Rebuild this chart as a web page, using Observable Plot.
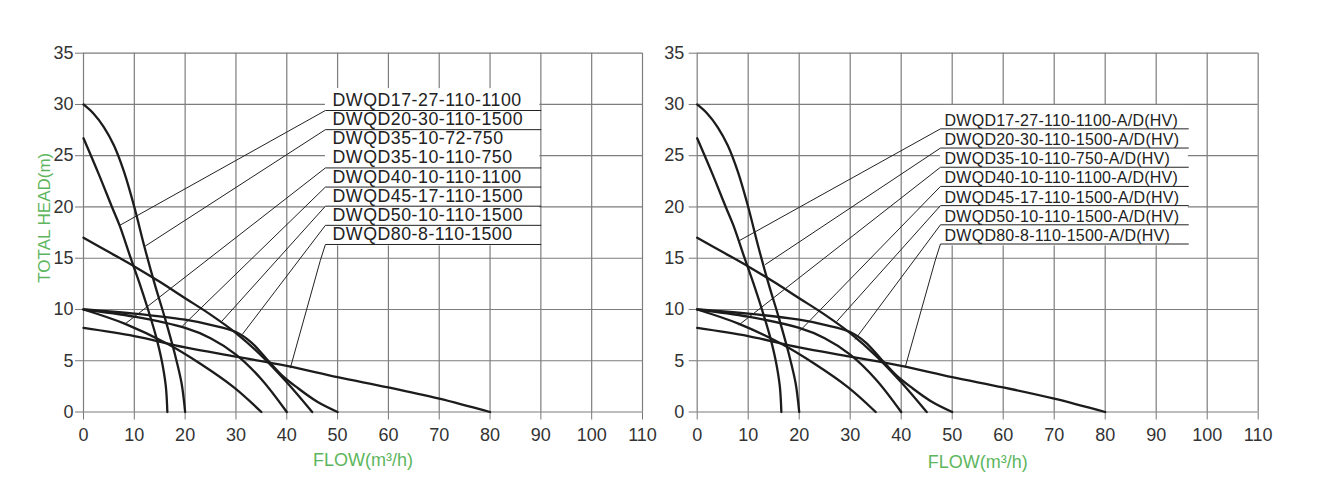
<!DOCTYPE html>
<html><head><meta charset="utf-8">
<script src="https://cdn.jsdelivr.net/npm/d3@7"></script>
<script src="https://cdn.jsdelivr.net/npm/@observablehq/plot@0.6"></script>
<style>
html,body{margin:0;padding:0;background:#fff;}
#root{position:relative;width:1326px;height:494px;overflow:hidden;}
#root svg{position:absolute;top:0;font-family:"Liberation Sans",Arial,sans-serif;}
</style></head><body><div id="root"></div>
<script>
// ---------- data ----------
const xTicks = [0,10,20,30,40,50,60,70,80,90,100,110];
const yTicks = [0,5,10,15,20,25,30,35];

// pump curves [flow m3/h, head m]
const curve17_27 = [[0,26.7],[3,23.2],[5.6,20],[7.1,18.2],[9.3,15],[11,12.6],[12.7,10],[14.2,7.5],[15.4,5],[16.2,2.5],[16.5,0]];
const curve20_30 = [[0,30],[2,29.1],[4,27.8],[6,26.0],[8,23.4],[10,20],[12,16.1],[14,12.5],[16,9.2],[18,5.6],[19.3,2.8],[20,0]];
const curve35_10 = [[0,10],[8.2,8.6],[16.5,6.65],[23,4.7],[29.6,2.4],[35,0]];
const curve40_10 = [[0,10],[10,9.3],[20,8.2],[25,7.2],[30,5.6],[35,3.2],[40,0]];
const curve45_17 = [[0,17],[5,15.6],[10,14.2],[15,12.7],[20,11.1],[25,9.5],[30,7.7],[35,5.5],[40,2.9],[45,0]];
const curve50_10 = [[0,10],[10,9.6],[20,9.0],[25,8.5],[30,7.8],[33,6.8],[36,5.2],[39,3.6],[42,2.4],[46,1.0],[50,0]];
const curve80_8  = [[0,8.2],[10,7.4],[20,6.3],[30,5.4],[40,4.5],[50,3.4],[60,2.4],[70,1.3],[80,0]];
const curveNames = ["17-27","20-30","35-10","40-10","45-17","50-10","80-8"];
const curveData  = [curve17_27,curve20_30,curve35_10,curve40_10,curve45_17,curve50_10,curve80_8];

const leftLabels = ["DWQD17-27-110-1100","DWQD20-30-110-1500","DWQD35-10-72-750","DWQD35-10-110-750","DWQD40-10-110-1100","DWQD45-17-110-1500","DWQD50-10-110-1500","DWQD80-8-110-1500"];
const rightLabels = ["DWQD17-27-110-1100-A/D(HV)","DWQD20-30-110-1500-A/D(HV)","DWQD35-10-110-750-A/D(HV)","DWQD40-10-110-1100-A/D(HV)","DWQD45-17-110-1500-A/D(HV)","DWQD50-10-110-1500-A/D(HV)","DWQD80-8-110-1500-A/D(HV)"];
// leader start points on curves [flow, head, label index]
const leftLeaders  = [[7.1,18.2,0],[12.2,16.2,1],[8.2,8.6,3],[19.5,8.4,4],[27.3,8.9,5],[31.3,7.6,6],[40.7,4.3,7]];
const rightLeaders = [[8.2,16.7,0],[13.4,14.4,1],[8.2,8.5,2],[20.1,7.9,3],[27.4,8.85,4],[31,7.1,5],[40.8,4.4,6]];
const yTitle = "TOTAL HEAD(m)";
const xTitle = "FLOW(m³/h)";

// ---------- build ----------
const rows = curveData.flatMap((c, k) => c.map(([x, y]) => ({series: curveNames[k], x, y})));
const GREEN = "#5db65d";

function panel(cfg) {
  const {labels, leaders, left, width, marginLeft, marginRight, lab, yTickPad, showYTitle} = cfg;
  const underY = labels.map((_, i) => lab.firstUnder - i * lab.step);
  const drawn = labels.map((_, i) => !(lab.skip || []).includes(i));
  const leaderRows = leaders.flatMap(([x, y, li], k) => {
    const pts = [[x, y]];
    if (k === leaders.length - 1) pts.push([lab.boxLeft - 1, underY[li] - 1.56]);
    pts.push([lab.boxLeft, underY[li]], [lab.lineRight, underY[li]]);
    return pts.map(([px, py]) => ({k, x: px, y: py}));
  });
  const marks = [
    Plot.gridX(xTicks, {stroke: "#7d7d7d", strokeOpacity: 1, strokeWidth: 1.2}),
    Plot.gridY(yTicks, {stroke: "#7d7d7d", strokeOpacity: 1, strokeWidth: 1.2}),
    Plot.rect([0], {x1: lab.boxLeft, x2: lab.boxRight, y1: lab.boxBottom, y2: lab.boxTop, fill: "white"}),
    Plot.axisX(xTicks, {tickSize: 8, tickPadding: 8, fontSize: 18, stroke: "#777", fill: "#333", label: null}),
    Plot.axisY(yTicks, {tickSize: 8, tickPadding: yTickPad, fontSize: 18, stroke: "#777", fill: "#333", label: null}),
    Plot.line(leaderRows, {x: "x", y: "y", z: "k", stroke: "#222", strokeWidth: 1}),
    Plot.ruleY(labels.filter((_, i) => drawn[i] && !leaders.some(l => l[2] === i)), {y: (d) => underY[labels.indexOf(d)], x1: lab.boxLeft, x2: lab.lineRight, stroke: "#222", strokeWidth: 1}),
    Plot.line(rows, {x: "x", y: "y", z: "series", stroke: "#1c1c1c", strokeWidth: 2.3, curve: "catmull-rom"}),
    Plot.text(labels, {x: lab.textX, y: (d, i) => underY[i] + lab.textOff, text: (d) => d, textAnchor: "start", lineAnchor: "middle", fontSize: lab.fontSize, fill: "#222"}),
    Plot.text([xTitle], {x: 55, y: lab.xTitleY, text: (d) => d, fontSize: 18, fill: GREEN, lineAnchor: "middle"})
  ];
  if (showYTitle) marks.push(Plot.text([yTitle], {x: lab.yTitleX, y: 18.95, rotate: -90, text: (d) => d, fontSize: 17, fill: GREEN, lineAnchor: "middle"}));
  const svg = Plot.plot({
    width, height: 494, marginLeft, marginRight, marginTop: 52.7, marginBottom: 82.5,
    x: {domain: [0, 110]}, y: {domain: [0, 35]},
    style: {background: "transparent", color: "#333"},
    marks
  });
  svg.style.left = left + "px";
  if (lab.ls) svg.querySelectorAll("text").forEach(t => { if (t.textContent.startsWith("DWQD")) t.setAttribute("letter-spacing", lab.ls); });
  return svg;
}

const root = document.getElementById("root");
root.appendChild(panel({
  labels: leftLabels, leaders: leftLeaders, left: 0, width: 663, marginLeft: 83, marginRight: 21, yTickPad: 2, showYTitle: true,
  lab: {boxLeft: 47.6, boxRight: 89.8, lineRight: 90, boxTop: 31.55, boxBottom: 16.2, textX: 49.0, firstUnder: 29.41, step: 1.867, textOff: 1.0, fontSize: 17.8, ls: 0.5, skip: [2], xTitleY: -4.75, yTitleX: -7.6}
}));
root.appendChild(panel({
  labels: rightLabels, leaders: rightLeaders, left: 663, width: 663, marginLeft: 33.7, marginRight: 68.3, yTickPad: 5, showYTitle: false,
  lab: {boxLeft: 47.7, boxRight: 96.3, lineRight: 96.3, boxTop: 29.9, boxBottom: 16.2, textX: 48.5, firstUnder: 27.62, step: 1.872, textOff: 0.8, fontSize: 16, ls: 0.25, xTitleY: -4.9}
}));
</script></body></html>
